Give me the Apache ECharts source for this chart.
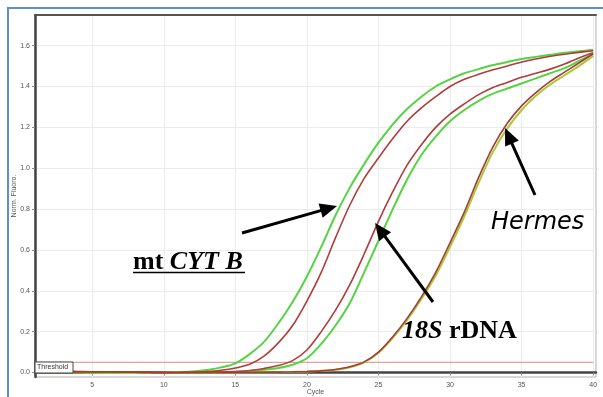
<!DOCTYPE html>
<html>
<head>
<meta charset="utf-8">
<title>qPCR amplification</title>
<script src="https://cdn.jsdelivr.net/npm/echarts@6/dist/echarts.min.js"></script>
<style>
  html, body { margin: 0; padding: 0; background: #fff; }
  #chart { width: 603px; height: 397px; }
</style>
</head>
<body>
<div id="chart"></div>
<script>
// cycles on the x axis
var cycles = [1, 2, 3, 4, 5, 6, 7, 8, 9, 10, 11, 12, 13, 14, 15, 16, 17, 18, 19, 20,
	21, 22, 23, 24, 25, 26, 27, 28, 29, 30, 31, 32, 33, 34, 35, 36, 37, 38, 39, 40];
var xTicks = [5, 10, 15, 20, 25, 30, 35, 40];
var yTicks = [0, 0.2, 0.4, 0.6, 0.8, 1.0, 1.2, 1.4, 1.6];
var threshold = 0.05;

// mt CYT B pair
var cytbGreen = [0.004, 0.003, 0.002, 0.001, 0.000, -0.002, -0.002, -0.003, -0.002, -0.001,
	0.002, 0.005, 0.012, 0.025, 0.045, 0.09, 0.15, 0.24, 0.345, 0.47,
	0.615, 0.77, 0.905, 1.02, 1.125, 1.215, 1.29, 1.35, 1.40, 1.435,
	1.465, 1.485, 1.505, 1.52, 1.535, 1.545, 1.555, 1.565, 1.572, 1.58];
var cytbRed = [0.006, 0.005, 0.004, 0.003, 0.004, 0.004, 0.003, 0.001, 0.000, -0.001,
	0.000, 0.002, 0.005, 0.011, 0.022, 0.04, 0.08, 0.145, 0.23, 0.35,
	0.49, 0.66, 0.82, 0.95, 1.05, 1.145, 1.23, 1.295, 1.35, 1.40,
	1.435, 1.46, 1.482, 1.50, 1.52, 1.535, 1.548, 1.558, 1.567, 1.575];
// 18S rDNA pair
var rdnaRed = [0.005, 0.005, 0.004, 0.004, 0.003, 0.003, 0.002, 0.001, 0.000, -0.001,
	-0.001, 0.000, 0.001, 0.002, 0.005, 0.01, 0.02, 0.034, 0.058, 0.11,
	0.2, 0.305, 0.43, 0.58, 0.74, 0.885, 1.015, 1.115, 1.2, 1.265,
	1.315, 1.36, 1.395, 1.42, 1.445, 1.465, 1.485, 1.51, 1.54, 1.565];
var rdnaGreen = [0.002, 0.001, 0.001, 0.000, -0.001, -0.002, -0.003, -0.003, -0.002, -0.002,
	-0.001, 0.000, 0.001, 0.002, 0.003, 0.007, 0.013, 0.022, 0.038, 0.07,
	0.14, 0.23, 0.34, 0.49, 0.645, 0.8, 0.945, 1.065, 1.155, 1.23,
	1.285, 1.33, 1.365, 1.39, 1.415, 1.44, 1.465, 1.49, 1.525, 1.56];
// Hermes pair
var hermesRed = [0.007, 0.006, 0.006, 0.005, 0.004, 0.004, 0.003, 0.002, 0.002, 0.001,
	0.001, 0.000, 0.000, 0.000, 0.000, 0.001, 0.001, 0.002, 0.003, 0.005,
	0.008, 0.015, 0.028, 0.052, 0.1, 0.175, 0.265, 0.37, 0.49, 0.635,
	0.785, 0.955, 1.105, 1.22, 1.305, 1.37, 1.425, 1.47, 1.515, 1.56];
var hermesGreen = [0.003, 0.003, 0.002, 0.002, 0.001, 0.000, -0.001, -0.001, -0.002, -0.002,
	-0.001, -0.001, 0.000, 0.000, 0.000, 0.001, 0.001, 0.002, 0.003, 0.005,
	0.008, 0.013, 0.026, 0.05, 0.097, 0.17, 0.258, 0.36, 0.475, 0.615,
	0.765, 0.93, 1.08, 1.195, 1.285, 1.355, 1.41, 1.455, 1.5, 1.55];

(function() {
	var chart = echarts.init(document.getElementById('chart'), null, { renderer: 'canvas' });

	//pair cycles with values
	function pairs(values) {
		var out = [];
		for (var i = 0; i < cycles.length; i++) {
			out.push([cycles[i], values[i]]);
		}
		return out;
	}

	function curve(name, values, color, width) {
		return {
			name: name,
			type: 'line',
			data: pairs(values),
			showSymbol: false,
			smooth: 0.3,
			lineStyle: { color: color, width: width },
			silent: true,
			z: 3
		};
	}

	//arrow as one polygon (shaft + head), in pixels
	function arrow(x1, y1, x2, y2) {
		var dx = x2 - x1, dy = y2 - y1;
		var len = Math.sqrt(dx * dx + dy * dy);
		var ux = dx / len, uy = dy / len;
		var nx = -uy, ny = ux; //normal
		var L = 17, W = 7.5, S = 1.5;
		var bx = x2 - ux * L, by = y2 - uy * L;
		return {
			type: 'polygon',
			z: 100,
			silent: true,
			shape: {
				points: [
					[x1 + nx * S, y1 + ny * S],
					[bx + nx * S, by + ny * S],
					[bx + nx * W, by + ny * W],
					[x2, y2],
					[bx - nx * W, by - ny * W],
					[bx - nx * S, by - ny * S],
					[x1 - nx * S, y1 - ny * S]
				]
			},
			style: { fill: '#000', stroke: null }
		};
	}

	var tickFont = { fontFamily: 'Liberation Sans', fontSize: 7, color: '#555' };

	chart.setOption({
		backgroundColor: '#fff',
		animation: false,
		grid: {
			left: 35, right: 7, top: 15, bottom: 20,
			outerBoundsMode: 'none',
			containLabel: false,
			show: true, borderColor: '#b0b0b0', borderWidth: 1
		},
		xAxis: [{
			type: 'value',
			min: 1, max: 40.2,
			name: 'Cycle',
			nameLocation: 'middle',
			nameGap: 12,
			nameMoveOverlap: false,
			nameTextStyle: tickFont,
			axisLine: { show: true, lineStyle: { color: '#444', width: 2.5 } },
			axisTick: { show: true, customValues: xTicks, length: 3, lineStyle: { color: '#888' } },
			axisLabel: Object.assign({ customValues: xTicks, margin: 5 }, tickFont),
			splitLine: { show: true, lineStyle: { color: '#ececec', width: 1 } }
		}, {
			type: 'value',
			position: 'top',
			min: 1, max: 40.2,
			axisLine: { show: true, lineStyle: { color: '#555', width: 2 } },
			axisTick: { show: false },
			axisLabel: { show: false },
			splitLine: { show: false }
		}],
		yAxis: {
			type: 'value',
			min: -0.022, max: 1.75,
			name: 'Norm. Fluoro.',
			nameLocation: 'middle',
			nameGap: 17,
			nameMoveOverlap: false,
			nameTextStyle: tickFont,
			axisLine: { show: true, lineStyle: { color: '#444', width: 2.5 } },
			axisTick: { show: true, customValues: yTicks, length: 3, lineStyle: { color: '#888' } },
			axisLabel: Object.assign({
				customValues: yTicks,
				margin: 5,
				formatter: function(v) { return v.toFixed(1); }
			}, tickFont),
			splitLine: { show: true, lineStyle: { color: '#ececec', width: 1 } }
		},
		series: [
			{
				name: 'Threshold',
				type: 'line',
				data: [[1, threshold], [40, threshold]],
				showSymbol: false,
				lineStyle: { color: '#d48a8a', width: 1 },
				silent: true,
				z: 2
			},
			curve('mt CYT B green', cytbGreen, '#55d443', 2),
			curve('18S rDNA green', rdnaGreen, '#55d443', 2),
			curve('Hermes green', hermesGreen, '#a9c83a', 2),
			curve('mt CYT B red', cytbRed, '#b03c3c', 1.6),
			curve('18S rDNA red', rdnaRed, '#b03c3c', 1.6),
			curve('Hermes red', hermesRed, '#a83b33', 1.6)
		],
		graphic: [
			//outer blue frame
			{
				type: 'rect',
				shape: { x: 8, y: 8, width: 620, height: 420 },
				style: { fill: 'none', stroke: '#5b8fd3', lineWidth: 2 },
				z: 0
			},
			//threshold tag
			{
				type: 'rect',
				shape: { x: 35, y: 362, width: 38, height: 11 },
				style: { fill: '#fff', stroke: '#444', lineWidth: 1 },
				z: 50
			},
			{
				type: 'text',
				x: 37, y: 363.5,
				style: { text: 'Threshold', fontFamily: 'Liberation Sans', fontSize: 7, fill: '#333' },
				z: 51
			},
			//labels
			{
				type: 'text',
				x: 133, y: 249,
				z: 100,
				style: {
					text: '{a|mt }{b|CYT B}',
					rich: {
						a: { fontFamily: 'Liberation Serif', fontWeight: 'bold', fontSize: 26, fill: '#000' },
						b: { fontFamily: 'Liberation Serif', fontWeight: 'bold', fontStyle: 'italic', fontSize: 26, fill: '#000' }
					}
				}
			},
			{
				type: 'line',
				shape: { x1: 133, y1: 272.5, x2: 245, y2: 272.5 },
				style: { stroke: '#000', lineWidth: 1.5 },
				z: 100
			},
			{
				type: 'text',
				x: 402, y: 318,
				z: 100,
				style: {
					text: '{b|18S}{a| rDNA}',
					rich: {
						a: { fontFamily: 'Liberation Serif', fontWeight: 'bold', fontSize: 26, fill: '#000' },
						b: { fontFamily: 'Liberation Serif', fontWeight: 'bold', fontStyle: 'italic', fontSize: 26, fill: '#000' }
					}
				}
			},
			{
				type: 'text',
				x: 491, y: 211,
				z: 100,
				style: { text: 'Hermes', fontFamily: 'DejaVu Sans', fontStyle: 'italic', fontSize: 24, fill: '#000' }
			},
			arrow(242, 233, 337, 206),
			arrow(433, 302, 375, 223),
			arrow(535, 195, 505, 128)
		]
	});
})();
</script>
</body>
</html>
